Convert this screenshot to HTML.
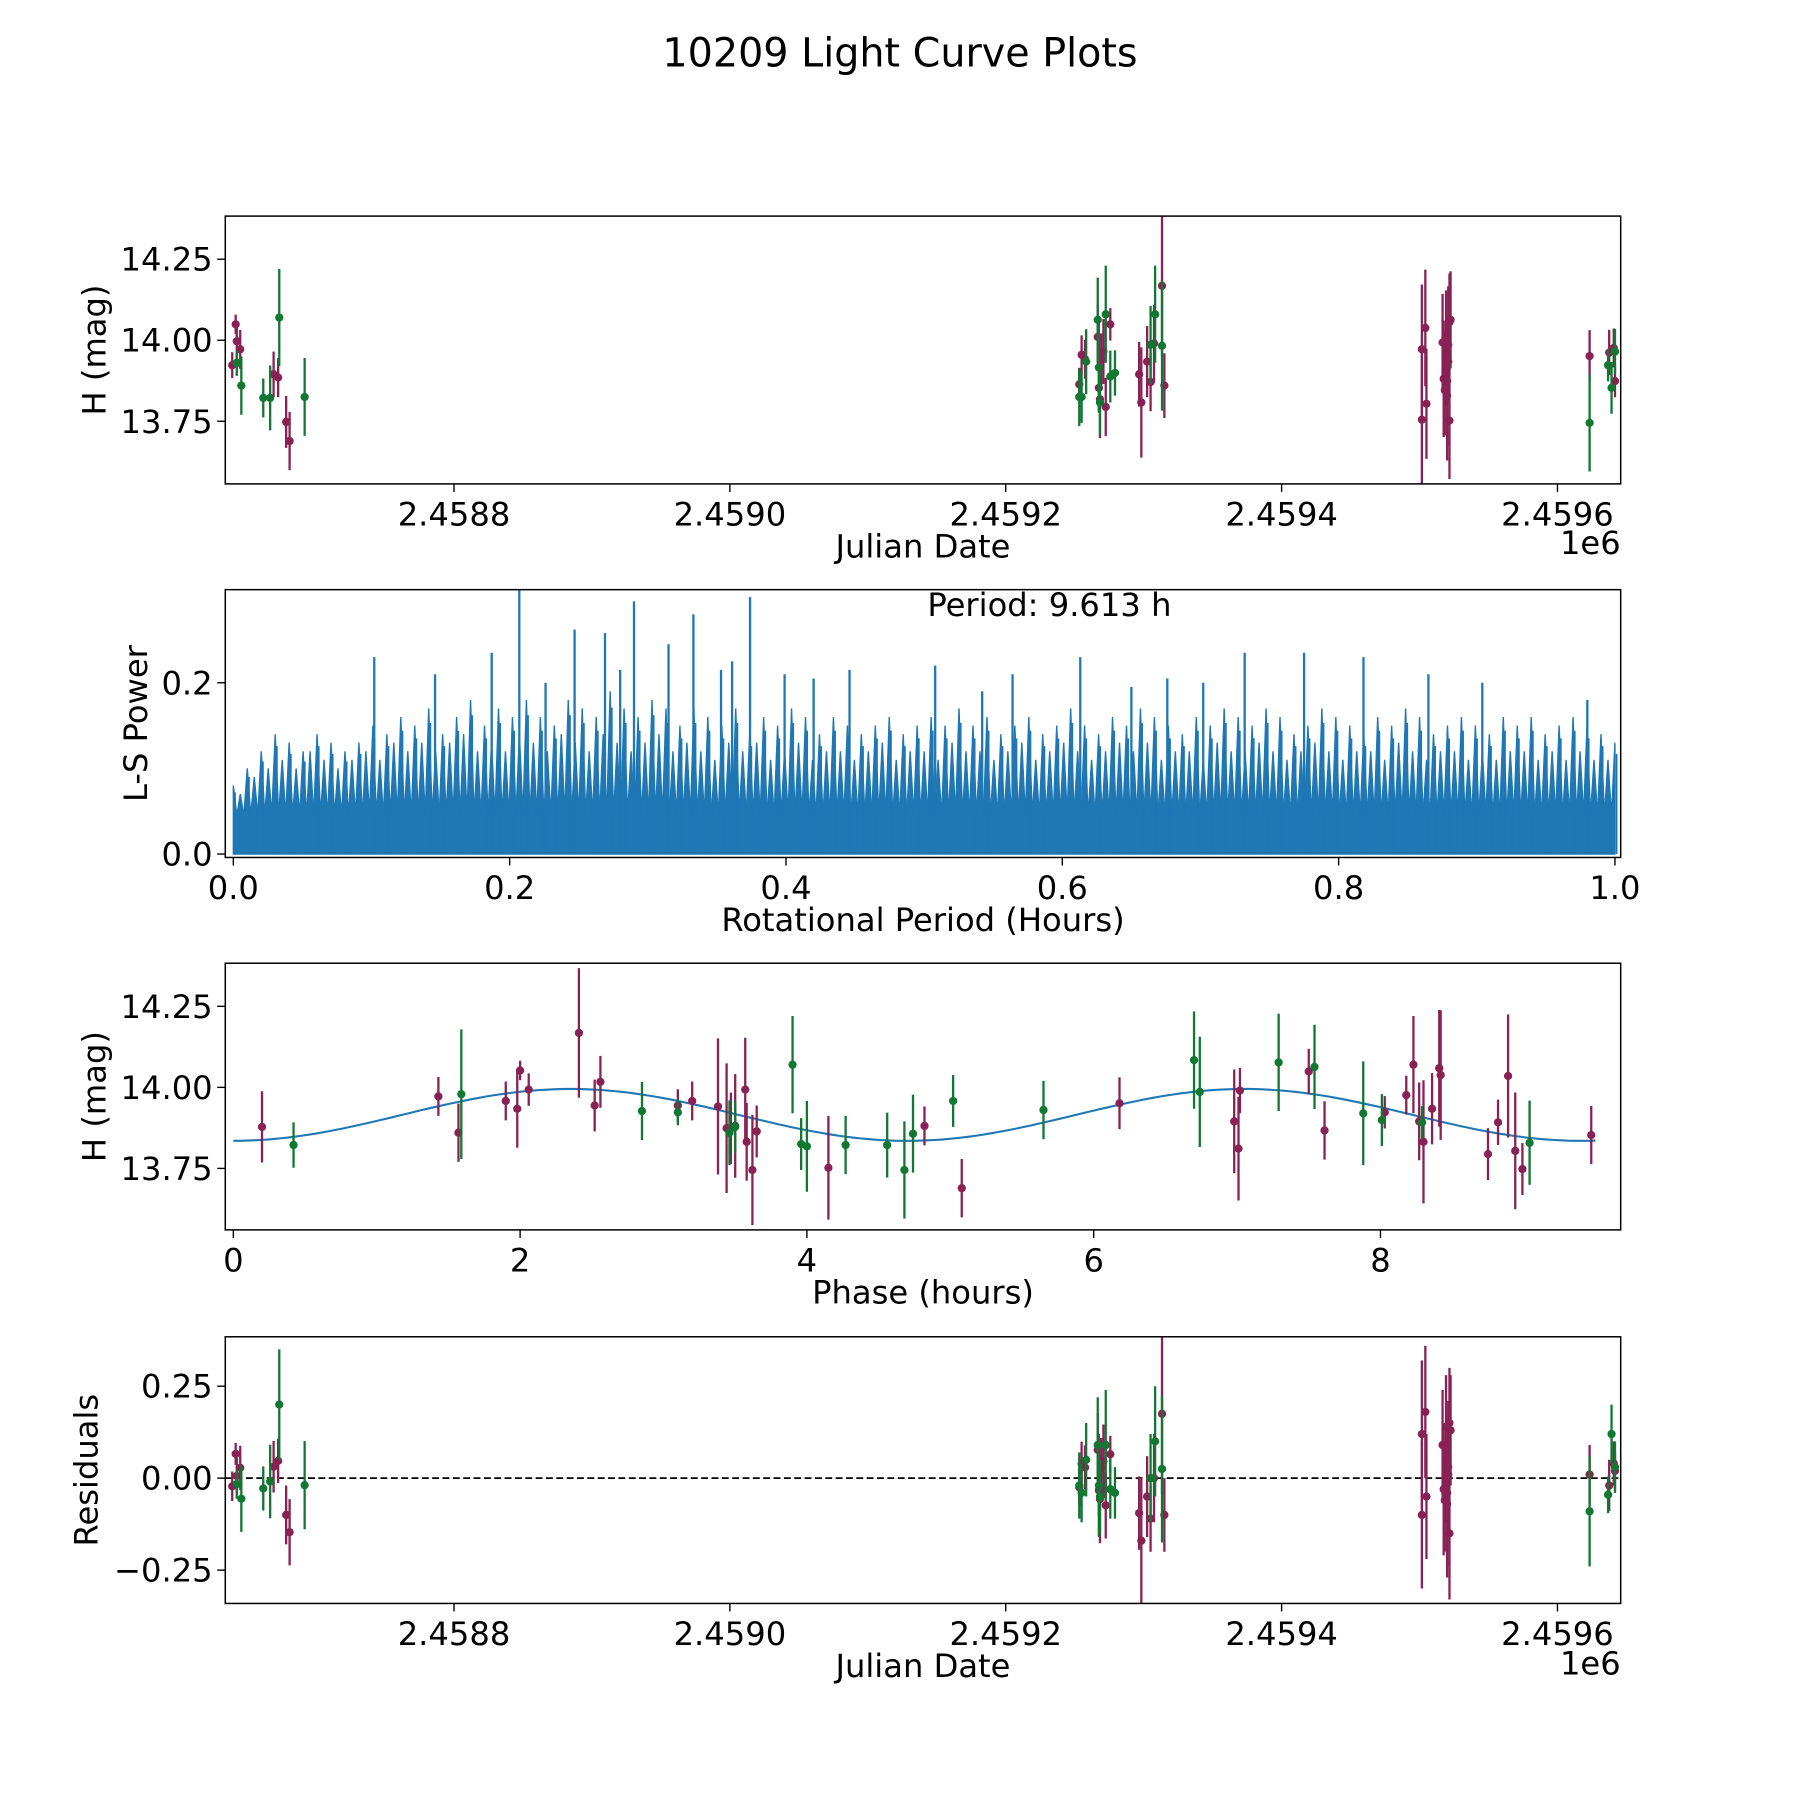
<!DOCTYPE html>
<html><head><meta charset="utf-8"><style>
html,body{margin:0;padding:0;background:#fff;}
svg{display:block;font-family:"DejaVu Sans","Liberation Sans",sans-serif;}
</style></head><body>
<svg id="fig" width="1800" height="1800" viewBox="0 0 1566 1566" xmlns="http://www.w3.org/2000/svg">
<rect width="1566" height="1566" fill="#fff"/>
<text x="783" y="58" font-size="34.5" text-anchor="middle">10209 Light Curve Plots</text>
</svg>
<script>
// ---------- data (JD offsets from 2458000) ----------
const jdM=[639.2,641.7,642.5,645.0,669.2,672.5,678.3,680.8,1253.3,1255,1257.5,1266.7,1267.5,1268.3,1269.2,1270.8,1272.5,1275.8,1296.7,1298.3,1302.5,1305,1307.5,1313.3,1315,1501.7,1504.2,1505,1501.7,1516.7,1517.5,1518.3,1519.2,1519.2,1520,1520.8,1520.8,1521.7,1521.7,1522.5,1520,1623.3,1637.5,1640.8,1641.7];
const magM=[13.923,14.049,13.997,13.972,13.895,13.885,13.748,13.689,13.864,13.955,13.941,14.010,13.853,13.818,13.941,13.965,13.794,14.049,13.895,13.808,13.934,13.871,13.990,14.168,13.860,13.972,14.038,13.804,13.755,13.993,13.881,13.846,14.014,13.916,13.874,13.986,13.934,14.056,13.752,14.063,13.829,13.951,13.962,13.976,13.874];
const errM=[0.04,0.03,0.05,0.06,0.07,0.06,0.08,0.09,0.05,0.06,0.06,0.1,0.07,0.12,0.08,0.1,0.09,0.05,0.1,0.17,0.11,0.09,0.12,0.22,0.1,0.2,0.18,0.17,0.2,0.15,0.18,0.14,0.14,0.12,0.2,0.18,0.12,0.15,0.18,0.15,0.2,0.08,0.07,0.06,0.05];
const resM=[-0.022,0.066,0.006,0.028,0.031,0.047,-0.1,-0.147,-0.025,0.039,0.029,0.077,-0.033,-0.057,0.029,0.046,-0.074,0.065,-0.095,-0.17,-0.05,-0.11,0.0,0.175,-0.10,0.12,0.18,-0.05,-0.10,0.09,-0.03,-0.06,0.14,0.0,-0.04,0.03,0.01,0.15,-0.15,0.13,-0.07,0.01,-0.02,0.04,0.02];
const jdG=[642.5,645.8,661.7,666.7,673.3,691.7,1253.3,1255,1258.3,1266.7,1267.5,1268.3,1272.5,1275.8,1279.2,1305,1308.3,1313.3,1623.3,1636.7,1639.2,1641.7];
const magG=[13.930,13.860,13.822,13.822,14.070,13.825,13.825,13.825,13.934,14.063,13.916,13.808,14.080,13.888,13.899,13.986,14.080,13.983,13.745,13.923,13.853,13.965];
const errG=[0.04,0.09,0.06,0.1,0.15,0.12,0.09,0.08,0.1,0.13,0.14,0.1,0.15,0.08,0.07,0.12,0.15,0.2,0.15,0.05,0.08,0.07];
const resG=[-0.016,-0.056,-0.028,-0.009,0.2,-0.019,-0.02,-0.04,0.05,0.09,-0.02,-0.05,0.09,-0.03,-0.04,0.0,0.1,0.025,-0.09,-0.045,0.12,0.03];
// phase-folded
const phM=[0.20,1.43,1.57,1.90,1.98,2.00,2.06,2.41,2.52,2.56,3.10,3.20,3.38,3.44,3.47,3.50,3.57,3.58,3.62,3.65,4.15,4.82,5.08,6.18,6.98,7.01,7.02,7.50,7.61,8.03,8.18,8.23,8.27,8.30,8.36,8.41,8.42,8.75,8.82,8.89,8.94,8.99,9.47];
const pmM=[13.878,13.972,13.860,13.958,13.934,14.052,13.993,14.168,13.944,14.017,13.944,13.958,13.941,13.874,13.874,13.881,13.993,13.832,13.745,13.864,13.752,13.881,13.689,13.951,13.895,13.811,13.990,14.049,13.867,13.923,13.976,14.070,13.895,13.832,13.934,14.059,14.038,13.794,13.892,14.035,13.804,13.748,13.853];
const peM=[0.11,0.06,0.09,0.06,0.12,0.03,0.05,0.2,0.08,0.08,0.05,0.06,0.21,0.2,0.11,0.16,0.16,0.12,0.17,0.08,0.16,0.06,0.09,0.08,0.16,0.16,0.07,0.07,0.09,0.05,0.06,0.15,0.12,0.19,0.11,0.18,0.2,0.08,0.07,0.19,0.18,0.08,0.09];
const phG=[0.42,1.59,2.85,3.10,3.46,3.50,3.90,3.96,4.00,4.27,4.56,4.68,4.74,5.02,5.65,6.70,6.74,7.29,7.54,7.88,8.01,8.29,9.04];
const pmG=[13.822,13.979,13.927,13.923,13.860,13.878,14.070,13.825,13.818,13.822,13.822,13.745,13.857,13.958,13.930,14.084,13.986,14.077,14.063,13.920,13.899,13.892,13.829];
const peG=[0.07,0.2,0.09,0.04,0.1,0.08,0.15,0.08,0.14,0.09,0.1,0.15,0.12,0.08,0.09,0.15,0.17,0.15,0.13,0.16,0.08,0.05,0.13];
// fit model
const fitMean=13.915, fitAmp=0.08, fitPeriodH=4.7, fitMaxPhase=9.5;
// periodogram
const peakPeriods=[0.207,0.29,0.333,0.374,0.247,0.269,0.315,0.187,0.102,0.146,0.353,0.361,0.399,0.446,0.508,0.542,0.564,0.613,0.650,0.676,0.702,0.732,0.775,0.818,0.865,0.904,0.98,0.28,0.226,0.42];
const peakPowers=[0.309,0.295,0.28,0.30,0.262,0.258,0.245,0.235,0.23,0.21,0.215,0.225,0.21,0.215,0.22,0.19,0.21,0.23,0.195,0.205,0.2,0.235,0.235,0.23,0.21,0.2,0.18,0.215,0.2,0.205];
const band=[0.08,0.10,0.12,0.14,0.13,0.12,0.14,0.13,0.12,0.13,0.15,0.14,0.16,0.15,0.17,0.14,0.16,0.18,0.15,0.17,0.16,0.18,0.16,0.15,0.18,0.17,0.16,0.19,0.17,0.16,0.18,0.17,0.15,0.17,0.16,0.15,0.17,0.14,0.16,0.15,0.17,0.16,0.14,0.16,0.15,0.14,0.15,0.16,0.14,0.15,0.16,0.15,0.17,0.15,0.16,0.14,0.15,0.16,0.14,0.15,0.17,0.15,0.14,0.16,0.15,0.17,0.16,0.15,0.14,0.16,0.15,0.17,0.16,0.15,0.17,0.16,0.14,0.15,0.17,0.16,0.15,0.14,0.16,0.15,0.17,0.16,0.14,0.15,0.16,0.15,0.14,0.16,0.15,0.16,0.14,0.15,0.16,0.15,0.14,0.13];
const band2=[0.07,0.09,0.10,0.11,0.10,0.12,0.11,0.10,0.11,0.12,0.11,0.13,0.12,0.13,0.12,0.13,0.14,0.12,0.13,0.12,0.14,0.13,0.12,0.14,0.13,0.12,0.14,0.13,0.12,0.13,0.14,0.12,0.13,0.12,0.11,0.13,0.12,0.13,0.11,0.12,0.13,0.11,0.12,0.12,0.11,0.12,0.13,0.11,0.12,0.12,0.11,0.13,0.12,0.12,0.11,0.12,0.13,0.11,0.12,0.13,0.12,0.11,0.12,0.13,0.12,0.13,0.11,0.12,0.12,0.11,0.13,0.12,0.12,0.13,0.12,0.11,0.12,0.13,0.12,0.11,0.12,0.12,0.11,0.13,0.12,0.11,0.12,0.12,0.11,0.12,0.11,0.12,0.12,0.11,0.12,0.11,0.12,0.11,0.11];
const bandValley=0.045;
const jdTicks=[800,1000,1200,1400,1600], jdTickLabels=["2.4588","2.4590","2.4592","2.4594","2.4596"];
const magTicks=[13.75,14.00,14.25], magTickLabels=["13.75","14.00","14.25"];
const powTicks=[0,0.2], powTickLabels=["0.0","0.2"];
const perTicks=[0,0.2,0.4,0.6,0.8,1.0], perTickLabels=["0.0","0.2","0.4","0.6","0.8","1.0"];
const phTicks=[0,2,4,6,8], phTickLabels=["0","2","4","6","8"];
const resTicks=[-0.25,0,0.25], resTickLabels=["\u22120.25","0.00","0.25"];

const NS="http://www.w3.org/2000/svg", svg=document.getElementById('fig');
const MAR="#882255", GRN="#117733", BLU="#1f77b4";
function mk(tag,attrs,parent){const e=document.createElementNS(NS,tag);for(const k in attrs)e.setAttribute(k,attrs[k]);(parent||svg).appendChild(e);return e;}
const L=196,R=1410, FS=28;
function lin(d0,d1,p0,p1){return v=>p0+(v-d0)*(p1-p0)/(d1-d0);}
const jdX=lin(800,1000,395,635);
function panel(name,top,bottom,xs,ys,xt,xtl,yt,ytl,xlabel,ylabel,ylabX,extra){
  const g=mk('g',{});
  
  
  xt.forEach((v,i)=>{const x=xs(v);
    const t=mk('line',{x1:x,x2:x,y1:bottom,y2:bottom+7,stroke:'#000','stroke-width':1.2},g);
    
    const l=mk('text',{x:x,y:bottom+36,'font-size':FS,'text-anchor':'middle'},g);l.textContent=xtl[i];
    });
  yt.forEach((v,i)=>{const y=ys(v);
    const t=mk('line',{x1:L-7,x2:L,y1:y,y2:y,stroke:'#000','stroke-width':1.2},g);
    
    const l=mk('text',{x:L-11,y:y+10,'font-size':FS,'text-anchor':'end'},g);l.textContent=ytl[i];
    });
  const xl=mk('text',{x:(L+R)/2,y:bottom+64,'font-size':FS,'text-anchor':'middle'},g);xl.textContent=xlabel;
  
  const cy=(top+bottom)/2;
  const yl=mk('text',{x:ylabX,y:cy,'font-size':FS,'text-anchor':'middle',transform:`rotate(-90 ${ylabX} ${cy})`},g);yl.textContent=ylabel;
  
  const clip=mk('clipPath',{id:'c'+top},g);mk('rect',{x:L,y:top,width:R-L,height:bottom-top},clip);
  const plot=mk('g',{'clip-path':`url(#c${top})`},g);
  extra(plot);
  const fr=mk('rect',{x:L,y:top,width:R-L,height:bottom-top,fill:'none',stroke:'#000','stroke-width':1.3},g);
  
  return g;
}
function errpts(parent,xs,ys,xa,ya,ea,col,nm){
  xa.forEach((v,i)=>{const x=xs(v);
    const b=mk('line',{x1:x,x2:x,y1:ys(ya[i]-ea[i]),y2:ys(ya[i]+ea[i]),stroke:col,'stroke-width':2},parent);
    
    const c=mk('circle',{cx:x,cy:ys(ya[i]),r:3.6,fill:col},parent);
    });
}
// Panel 1
const mag1=lin(14.0,14.25,296,225.5);
panel('light-curve-panel',188,421,jdX,mag1,jdTicks,jdTickLabels,magTicks,magTickLabels,'Julian Date','H (mag)',92,p=>{
  errpts(p,jdX,mag1,jdM,magM,errM,MAR,'band-1');
  errpts(p,jdX,mag1,jdG,magG,errG,GRN,'band-2');
});
const e1=mk('text',{x:1410,y:482,'font-size':FS,'text-anchor':'end'});e1.textContent='1e6';

// Panel 2
const perX=lin(0,1,203,1405), powY=lin(0,0.2,743,594);
panel('periodogram-panel',513,746,perX,powY,perTicks,perTickLabels,powTicks,powTickLabels,'Rotational Period (Hours)','L-S Power',128,p=>{
  const n=band.length-1;
  let pts=[[perX(0),powY(0)]];
  band.forEach((v,i)=>{
    pts.push([perX(i/n),powY(v)]);
    if(i<n){pts.push([perX((i+0.25)/n),powY(bandValley)]);
      pts.push([perX((i+0.5)/n),powY(band2[i])]);
      pts.push([perX((i+0.75)/n),powY(bandValley)]);}});
  pts.push([perX(1),powY(0)]);
  const poly=mk('polygon',{points:pts.map(q=>q.join(',')).join(' '),fill:BLU,stroke:BLU,'stroke-width':1.2},p);
  
  band.forEach((v,i)=>{const x=perX((i+0.12)/n);
    const l=mk('line',{x1:x,x2:x,y1:powY(0),y2:powY(v*0.9),stroke:BLU,'stroke-width':1.5},p);
    });
  peakPeriods.forEach((v,i)=>{const x=perX(v);
    const l=mk('line',{x1:x,x2:x,y1:powY(0),y2:powY(peakPowers[i]),stroke:BLU,'stroke-width':2},p);
    });
});
const pt=mk('text',{x:913,y:536,'font-size':FS,'text-anchor':'middle'});pt.textContent='Period: 9.613 h';

// Panel 3
const phX=lin(0,2,203,452.5), mag3=lin(14.0,14.25,946,875.5);
panel('phase-folded-panel',838,1070,phX,mag3,phTicks,phTickLabels,magTicks,magTickLabels,'Phase (hours)','H (mag)',92,p=>{
  let d='';
  for(let i=0;i<=200;i++){const ph=fitMaxPhase*i/200;const m=fitMean-fitAmp*Math.cos(2*Math.PI*ph/fitPeriodH);d+=(i?'L':'M')+phX(ph).toFixed(1)+','+mag3(m).toFixed(1);}
  const c=mk('path',{d:d,fill:'none',stroke:BLU,'stroke-width':1.8},p);
  
  errpts(p,phX,mag3,phM,pmM,peM,MAR,'band-1-phase');
  errpts(p,phX,mag3,phG,pmG,peG,GRN,'band-2-phase');
});
// Panel 4
const resY=lin(0,0.25,1286,1206);
panel('residuals-panel',1163,1395,jdX,resY,jdTicks,jdTickLabels,resTicks,resTickLabels,'Julian Date','Residuals',85,p=>{
  const z=mk('line',{x1:L,x2:R,y1:resY(0),y2:resY(0),stroke:'#000','stroke-width':1.5,'stroke-dasharray':'6,3'},p);
  
  errpts(p,jdX,resY,jdM,resM,errM,MAR,'band-1-residual');
  errpts(p,jdX,resY,jdG,resG,errG,GRN,'band-2-residual');
});
const e4=mk('text',{x:1410,y:1457,'font-size':FS,'text-anchor':'end'});e4.textContent='1e6';

</script>
</body></html>
